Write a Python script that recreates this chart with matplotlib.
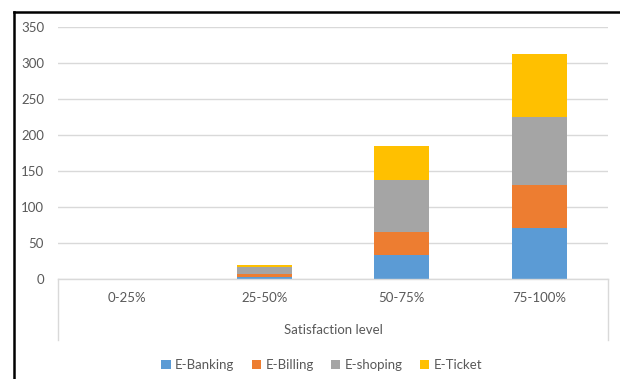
import matplotlib
matplotlib.use('Agg')

import matplotlib.pyplot as plt
import numpy as np
from matplotlib.lines import Line2D

plt.rcParams['font.family'] = ['Lato', 'DejaVu Sans']

categories = ["0-25%", "25-50%", "50-75%", "75-100%"]
e_banking = [0, 3, 33, 71]
e_billing = [0, 4, 32, 59]
e_shoping = [0, 9, 72, 95]
e_ticket = [0, 3, 48, 87]

series = [("E-Banking", e_banking, "#5B9BD5"),
          ("E-Billing", e_billing, "#ED7D31"),
          ("E-shoping", e_shoping, "#A5A5A5"),
          ("E-Ticket", e_ticket, "#FFC000")]

W, H = 620, 379
fig = plt.figure(figsize=(W / 100, H / 100), dpi=100)
ax = fig.add_axes([58 / W, 1 - 279 / H, 550 / W, (279 - 26.7) / H])

x = np.arange(len(categories))
bottom = np.zeros(len(categories))
for name, vals, col in series:
    ax.bar(x, vals, 0.4, bottom=bottom, color=col, label=name, zorder=3)
    bottom += np.array(vals)

txt = "#595959"
grid = "#D9D9D9"
ax.set_xlim(-0.5, len(categories) - 0.5)
ax.set_ylim(0, 350)
ax.set_yticks(range(0, 351, 50))
ax.yaxis.grid(True, color=grid, linewidth=1, zorder=0)
for s in ax.spines.values():
    s.set_visible(False)
ax.tick_params(axis='y', length=0, pad=10, labelsize=9.5, labelcolor=txt)
ax.tick_params(axis='x', length=0, pad=9, labelsize=9.5, labelcolor=txt)
ax.set_xticks(x)
ax.set_xticklabels(categories)

# category axis box
ybot = -(340 - 279) / (279 - 26.7)
for xx in (0, 1):
    ax.add_line(Line2D([xx, xx], [0, ybot], transform=ax.transAxes,
                       color=grid, linewidth=1, clip_on=False))
ax.add_line(Line2D([0, 1], [0, 0], transform=ax.transAxes,
                   color=grid, linewidth=1, clip_on=False, zorder=4))
ax.text(0.5, -(330 - 279) / (279 - 26.7), "Satisfaction level", transform=ax.transAxes,
        ha='center', va='center', fontsize=9.5, color=txt)

fig.legend(loc='center', bbox_to_anchor=(322 / W, 1 - 365 / H), ncol=4,
           frameon=False, fontsize=9.5, handlelength=0.7, handleheight=0.7,
           handletextpad=0.35, columnspacing=1.3, labelcolor=txt)

# black frame
fig.add_artist(Line2D([14 / W, 14 / W], [0, 1 - 12 / H], color='black', linewidth=1.8))
fig.add_artist(Line2D([14 / W, 1], [1 - 12 / H, 1 - 12 / H], color='black', linewidth=1.8))

plt.savefig("out.png", dpi=100)
plt.close()
